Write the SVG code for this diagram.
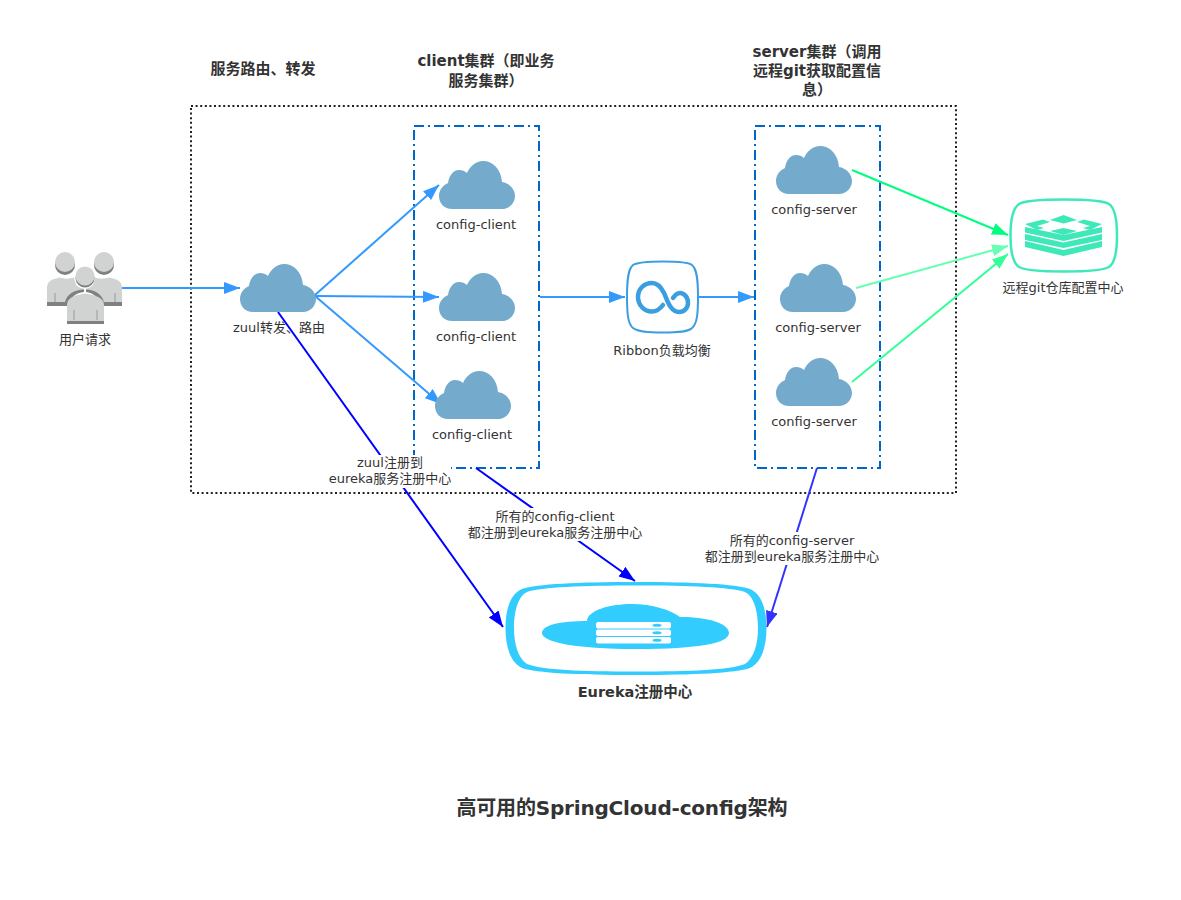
<svg xmlns="http://www.w3.org/2000/svg" width="1181" height="900" viewBox="0 0 1181 900">
<style>
text{font-family:"DejaVu Sans","Noto Sans CJK SC",sans-serif;font-size:13px;fill:#333;text-anchor:middle}
.b{font-weight:bold;font-size:15px}
.t{font-weight:bold;font-size:20px}
.c{fill:#74abcd}
.l{fill:none;stroke-width:2}
.bx{fill:none;stroke:#0066cc;stroke-width:2;stroke-dasharray:10 4 2 4}
.lt{fill:#d1d3d3}
.dk{fill:#808080}
</style>
<defs>
<path id="cloud" d="M13 48C5 48 0 42 0 35C0 29 4 24 9 22C10 15 14 9 20 9C23 9 26 10 28 12C31 5 37 0 44 0C54 0 62 8 63 21C70 22 76 28 76 35C76 42 70 48 63 48Z"/>
<marker id="a1" markerUnits="userSpaceOnUse" markerWidth="17" markerHeight="13" refX="16" refY="6" orient="auto"><path d="M0 0L16 6L0 12Z" fill="#3399ff"/></marker>
<marker id="a2" markerUnits="userSpaceOnUse" markerWidth="17" markerHeight="13" refX="16" refY="6" orient="auto"><path d="M0 0L16 6L0 12Z" fill="#00ff80"/></marker>
<marker id="a3" markerUnits="userSpaceOnUse" markerWidth="17" markerHeight="13" refX="16" refY="6" orient="auto"><path d="M0 0L16 6L0 12Z" fill="#66ffb3"/></marker>
<marker id="a4" markerUnits="userSpaceOnUse" markerWidth="17" markerHeight="13" refX="16" refY="6" orient="auto"><path d="M0 0L16 6L0 12Z" fill="#33ff99"/></marker>
<marker id="a5" markerUnits="userSpaceOnUse" markerWidth="17" markerHeight="13" refX="16" refY="6" orient="auto"><path d="M0 0L16 6L0 12Z" fill="#0000ff"/></marker>
<marker id="a6" markerUnits="userSpaceOnUse" markerWidth="17" markerHeight="13" refX="16" refY="6" orient="auto"><path d="M0 0L16 6L0 12Z" fill="#3333ff"/></marker>
</defs>
<rect width="1181" height="900" fill="#fff"/>
<g id="boundary"><rect x="191" y="106" width="765" height="387" fill="none" stroke="#222" stroke-width="2" stroke-dasharray="2 2.600"/></g>
<g id="client-cluster"><rect class="bx" x="414" y="126" width="125" height="342"/></g>
<g id="server-cluster"><rect class="bx" x="755" y="126" width="125" height="342"/></g>
<g id="connectors">
<path class="l" stroke="#3399ff" marker-end="url(#a1)" d="M122 288H240"/>
<path class="l" stroke="#3399ff" marker-end="url(#a1)" d="M315 295L439 185"/>
<path class="l" stroke="#3399ff" marker-end="url(#a1)" d="M315 296L439 297"/>
<path class="l" stroke="#3399ff" marker-end="url(#a1)" d="M315 296L441 404"/>
<path class="l" stroke="#3399ff" marker-end="url(#a1)" d="M540 297H625"/>
<path class="l" stroke="#3399ff" marker-end="url(#a1)" d="M699 297H754"/>
<path class="l" stroke="#00ff80" marker-end="url(#a2)" d="M852 170L1008 235"/>
<path class="l" stroke="#66ffb3" marker-end="url(#a3)" d="M856 288L1008 246"/>
<path class="l" stroke="#33ff99" marker-end="url(#a4)" d="M852 382L1008 254"/>
<path class="l" stroke="#0000ff" marker-end="url(#a5)" d="M278 312L503 627"/>
<path class="l" stroke="#0000ff" marker-end="url(#a5)" d="M476 468L635 581"/>
<path class="l" stroke="#3333ff" marker-end="url(#a6)" d="M817 468L767 627"/>
</g>
<g id="user">
<circle class="dk" cx="65" cy="265" r="10"/><circle class="dk" cx="104" cy="265" r="10"/>
<circle class="lt" cx="65" cy="262" r="10"/><circle class="lt" cx="104" cy="262" r="10"/>
<path class="lt" d="M47 303V288C47 283 50 280 54 279L60 277.500C64 279 70 279 74 277.500L76 285C78 287 81 288 84 289V290C74 291 67 295 65 303Z"/>
<path class="lt" d="M122 303V288C122 283 119 280 115 279L109 277.500C105 279 99 279 95 277.500L93 285C91 287 88 288 86 289V290C95 291 102 295 104 303Z"/>
<path class="dk" d="M47 302H65C67 294 74 290 84 289.500V292C76 293 70 297 68 306H47ZM122 302H104C102 294 95 290 86 289.500V292C93 293 99 297 101 306H122Z"/>
<circle class="dk" cx="85" cy="278" r="9.500"/><circle class="lt" cx="85" cy="276" r="9.500"/>
<path class="lt" d="M67 322V305C67 298 74 295 85 293.500C96 295 104 298 104 305V322Z"/>
<rect class="dk" x="67" y="321" width="37" height="3"/>
<path d="M55 293V302M115 293V302M74 310V320M97 310V320" stroke="#999" stroke-width="1" fill="none"/>
<text x="85" y="344">用户请求</text>
</g>
<g id="zuul"><use href="#cloud" class="c" x="240" y="264"/><text x="279" y="332">zuul转发、路由</text></g>
<g id="client1"><use href="#cloud" class="c" x="439" y="161"/><text x="476" y="229">config-client</text></g>
<g id="client2"><use href="#cloud" class="c" x="439" y="273"/><text x="476" y="341">config-client</text></g>
<g id="client3"><use href="#cloud" class="c" x="435" y="371"/><text x="472" y="439">config-client</text></g>
<g id="server1"><use href="#cloud" class="c" x="776" y="146"/><text x="814" y="214">config-server</text></g>
<g id="server2"><use href="#cloud" class="c" x="780" y="264"/><text x="818" y="332">config-server</text></g>
<g id="server3"><use href="#cloud" class="c" x="776" y="358"/><text x="814" y="426">config-server</text></g>
<g id="ribbon">
<path d="M663 261.500C678 261.500 688 262 692 265C697 269 698 280 698 297C698 314 697 324 692 328C688 332 678 332.500 663 332.500C648 332.500 638 332 633 328C628 324 627 314 627 297C627 280 628 269 633 265C638 262 648 261.500 663 261.500Z" fill="#fff" stroke="#3b9ee0" stroke-width="2"/>
<path d="M663 305C660 309 656 311.500 652 311.500C644 311.500 638 305 638 297C638 289 644 283 652 283C658 283 661 287 664 293C667 299 670 312 679 312C684 312 688 308 688 303C688 297 684 293 680 293C677 293 675 295 673 298" fill="none" stroke="#3b9ee0" stroke-width="4.500" stroke-linecap="round"/>
<text x="662" y="355">Ribbon负载均衡</text>
</g>
<g id="git">
<path d="M1064 199.500C1085 199.500 1102 200 1109 204C1115 208 1117 220 1117 235.500C1117 251 1115 263 1109 267C1102 271 1085 271.500 1064 271.500C1043 271.500 1026 271 1019 267C1013 263 1010.500 251 1010.500 235.500C1010.500 220 1013 208 1019 204C1026 200 1043 199.500 1064 199.500Z" fill="#fff" stroke="#3fe8b8" stroke-width="2.500"/>
<g fill="#3fe8b8">
<path d="M1025 227L1063.500 235L1102 227V232.500L1063.500 241L1025 232.500Z"/>
<path d="M1025 234L1063.500 242.500L1102 234V240L1063.500 248L1025 240Z"/>
<path d="M1025 241L1063.500 250L1102 241V247L1063.500 256L1025 247Z"/>
<path d="M1050 220L1063.500 215L1077 220L1063.500 223.500Z"/>
<path d="M1050 231L1063.500 228L1077 231L1063.500 235Z"/>
<path d="M1025 224L1043 219.500L1050 222L1037 226L1044 228L1037 230Z"/>
<path d="M1102 224L1084 219.500L1077 222L1090 226L1083 228L1090 230Z"/>
</g>
<text x="1063" y="292">远程git仓库配置中心</text>
</g>
<g id="eureka">
<path fill-rule="evenodd" fill="#33ccff" d="M636 582C695 582 735 584 750 589C762 594 766.500 610 766.500 628C766.500 646 762 662 750 668C735 673 695 675 636 675C577 675 537 673 522 668C510 662 505.500 646 505.500 628C505.500 610 510 594 522 589C537 584 577 582 636 582ZM636 585.500C690 585.500 730 587 745 592C754 596 758 612 758 628C758 644 754 658 745 664C730 670 690 671.500 636 671.500C582 671.500 542 670 527 664C518 658 514 644 514 628C514 612 518 596 527 592C542 587 582 585.500 636 585.500Z"/>
<path fill="#33ccff" d="M587 621C588 610 610 604 632 604C652 604 671 610 680 617C710 617 729 624 729 633C729 643 700 649 636 649C575 649 542 642 542 633C542 625 560 621 587 621Z"/>
<g fill="#fff"><rect x="596" y="622" width="75" height="6.500" rx="2"/><rect x="596" y="629.500" width="75" height="6.500" rx="2"/><rect x="596" y="637" width="75" height="6.500" rx="2"/></g>
<g fill="#33ccff"><ellipse cx="657" cy="625.200" rx="4.500" ry="1.500"/><ellipse cx="657" cy="632.700" rx="4.500" ry="1.500"/><ellipse cx="657" cy="640.200" rx="4.500" ry="1.500"/></g>
<text class="b" x="635" y="697" style="font-size:14.500px">Eureka注册中心</text>
</g>
<g id="label-zuul"><rect x="330" y="455" width="121" height="33" fill="#fff"/><text x="390" y="467">zuul注册到</text><text x="390" y="483">eureka服务注册中心</text></g>
<g id="label-client"><rect x="468" y="508" width="174" height="33" fill="#fff"/><text x="555" y="521">所有的config-client</text><text x="555" y="537">都注册到eureka服务注册中心</text></g>
<g id="label-server"><rect x="705" y="532" width="174" height="33" fill="#fff"/><text x="792" y="545">所有的config-server</text><text x="792" y="561">都注册到eureka服务注册中心</text></g>
<g id="titles">
<text class="b" x="486" y="66">client集群（即业务</text><text class="b" x="486" y="86">服务集群）</text>
<text class="b" x="263" y="74">服务路由、转发</text>
<text class="b" x="817" y="57">server集群（调用</text><text class="b" x="817" y="76">远程git获取配置信</text><text class="b" x="817" y="95">息）</text>
<text class="t" x="622" y="815" textLength="331">高可用的SpringCloud-config架构</text>
</g>
</svg>
